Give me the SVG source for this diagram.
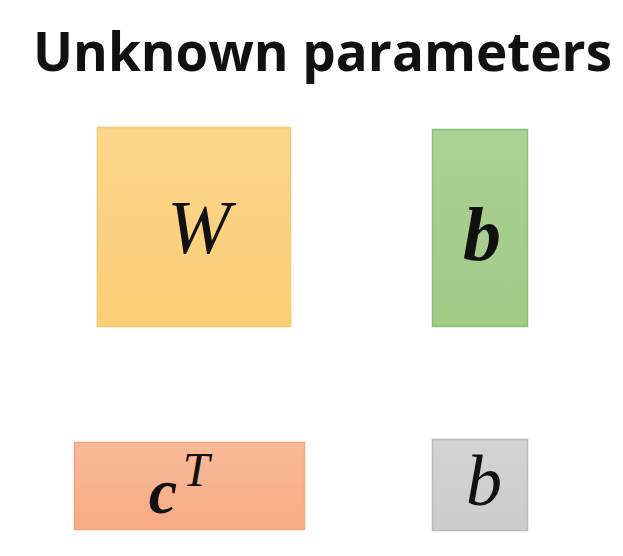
<svg xmlns="http://www.w3.org/2000/svg" width="623" height="556" viewBox="0 0 623 556">
<defs>
<linearGradient id="gO" x1="0" y1="0" x2="0" y2="1"><stop offset="0" stop-color="#FDD68C"/><stop offset="1" stop-color="#FCCE76"/></linearGradient>
<linearGradient id="gG" x1="0" y1="0" x2="0" y2="1"><stop offset="0" stop-color="#ACD194"/><stop offset="1" stop-color="#A0CA86"/></linearGradient>
<linearGradient id="gS" x1="0" y1="0" x2="0" y2="1"><stop offset="0" stop-color="#F9BA98"/><stop offset="1" stop-color="#F7AC84"/></linearGradient>
<linearGradient id="gY" x1="0" y1="0" x2="0" y2="1"><stop offset="0" stop-color="#D4D4D4"/><stop offset="1" stop-color="#CBCBCB"/></linearGradient>
</defs>
<style>
.title{font-family:"Open Sans","Noto Sans",sans-serif;font-weight:bold;font-size:54px;fill:#111}
.m{font-family:"Liberation Serif","DejaVu Serif",serif;font-style:italic;fill:#111;text-anchor:middle}
.bold{font-weight:bold}
</style>
<rect width="623" height="556" fill="#fff"/>
<text class="title" x="33" y="71" textLength="579" lengthAdjust="spacingAndGlyphs">Unknown parameters</text>
<g id="W">
<rect x="97.5" y="127.5" width="193" height="199" fill="url(#gO)" stroke="#F7C871" stroke-width="1.5"/>
<text class="m" x="199" y="253" font-size="76">W</text>
</g>
<g id="b_vec">
<rect x="432.5" y="129.5" width="95" height="197" fill="url(#gG)" stroke="#90BD75" stroke-width="1.5"/>
<text class="m bold" x="482" y="260" font-size="76">b</text>
</g>
<g id="cT">
<rect x="74.5" y="442.5" width="230" height="87" fill="url(#gS)" stroke="#F4A47D" stroke-width="1.5"/>
<text class="m bold" x="163" y="513" font-size="64">c</text>
<text class="m" x="196" y="486" font-size="48">T</text>
</g>
<g id="b_scalar">
<rect x="432.5" y="439.5" width="95" height="91" fill="url(#gY)" stroke="#B9B9B9" stroke-width="1.5"/>
<text class="m" x="484" y="505" font-size="72">b</text>
</g>
<g id="connectors"></g>
</svg>
